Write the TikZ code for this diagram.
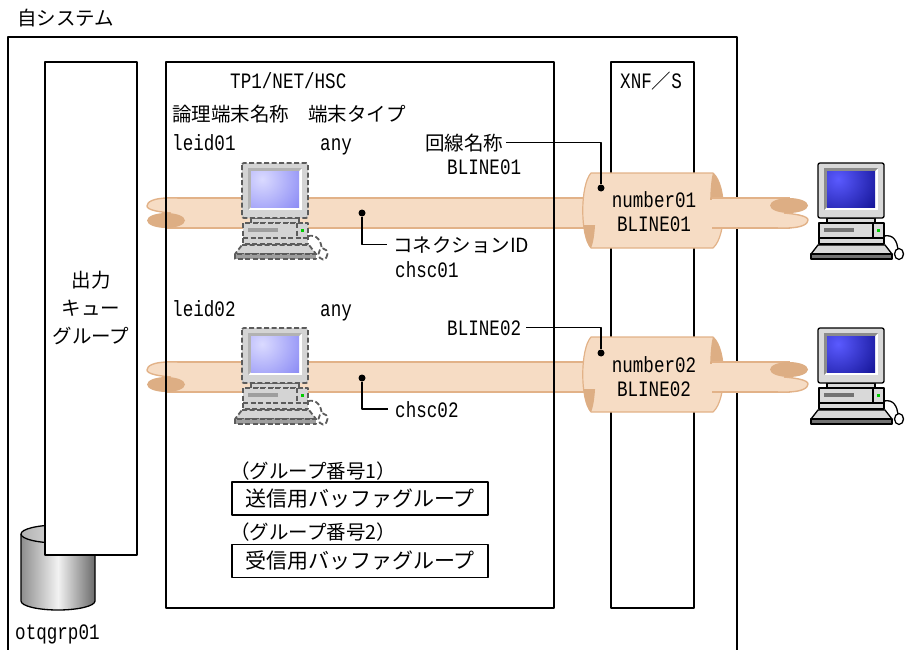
\documentclass[tikz,border=0pt]{standalone}
\usepackage{fontspec}
\setmainfont{Noto Sans CJK JP}
\newfontfamily\latmono[FakeStretch=0.8]{Liberation Mono}

\definecolor{pipefill}{HTML}{F6DCC4}
\definecolor{pipeedge}{HTML}{E2B288}
\definecolor{pipedark}{HTML}{DDAE84}
\definecolor{dashgray}{HTML}{5C5C5C}
\definecolor{cylside}{HTML}{8E8E8E}
\definecolor{cylhi}{HTML}{F2F2F2}
\colorlet{termcase}{black!15}
\colorlet{termbevel}{black!45}
\colorlet{termdark}{black!55}
\colorlet{scrhi}{blue!60}
\colorlet{scrlo}{blue!50!black}

\tikzset{
  box/.style={draw=black, line width=1.3pt},
  pipeline/.style={draw=pipeedge, line width=1.4pt},
  conn/.style={draw=black, line width=1.3pt},
  dot/.style={circle, fill=black, inner sep=0pt, minimum size=7pt},
  jp/.style={inner sep=0pt, font=\fontsize{19.5}{24}\selectfont},
  lt/.style={inner sep=0pt, font=\latmono\fontsize{22}{24}\selectfont},
  jw/.style={jp, anchor=base west},
  lw/.style={lt, anchor=base west},
  bufbox/.style={draw=black, line width=1.3pt, minimum width=256pt,
    minimum height=33pt, inner sep=0pt, font=\fontsize{21}{24}\selectfont},
  termline/.style={draw=black, line width=1.3pt},
}

% terminal icon, origin at the top-left corner of the monitor
\newcommand\termbody{%
  \draw[termline] (66,73) .. controls (76,71) and (79,79) .. (80,86);
  \draw[termline, fill=white] (81,91) ellipse (4.5 and 5.5);
  \draw[termline, fill=termcase] (0,82) -- (67,82) -- (74,91) -- (-7,91) -- cycle;
  \draw[termline, fill=termdark] (-7,91) rectangle (74,96);
  \draw[termline, fill=termcase] (9,55) rectangle (57,60);
  \draw[termline, fill=termcase] (1,60) rectangle (66,81);
  \draw[termline] (55,60) -- (55,75) (1,75) -- (66,75);
  \fill[termdark] (6,65) rectangle (36,69);
  \fill[green!80!black] (59,66) rectangle (62,69);
  \draw[termline, fill=termcase, rounded corners=2pt] (0,0) rectangle (66,55);
  \fill[white] (6,5) rectangle (60,47);
  \fill[termbevel] (6,5) -- (60,5) -- (57,8) -- (9,8) -- (9,44) -- (6,47) -- cycle;
  \begin{scope}
    \clip (9,8) rectangle (57,44);
    \shade[inner color=scrhi, outer color=scrlo] (20,16) circle (60);
  \end{scope}
}
\newcommand\solidterm[2]{%
  \begin{scope}[shift={(#1,#2)}]
    \colorlet{termcase}{black!15}\colorlet{termbevel}{black!45}%
    \colorlet{termdark}{black!55}%
    \definecolor{scrhi}{HTML}{5A5AFF}\definecolor{scrlo}{HTML}{000078}%
    \termbody
  \end{scope}}
\newcommand\dashterm[2]{%
  \begin{scope}[shift={(#1,#2)},
      termline/.style={draw=dashgray, line width=1.8pt, dash pattern=on 5pt off 2.5pt}]
    \colorlet{termcase}{black!17}\colorlet{termbevel}{black!30}%
    \colorlet{termdark}{black!38}%
    \definecolor{scrhi}{HTML}{DADAFF}\definecolor{scrlo}{HTML}{7474F2}%
    \termbody
  \end{scope}}

% loose end of a cable: tip at (0,0), cable running towards +x
\newcommand\pipeend{%
  \fill[pipefill] (22,-15) .. controls (6,-15) and (0,-11) .. (0,-7)
    .. controls (0,-3) and (12,-1) .. (24,0) -- (30,0) -- (30,-15) -- cycle;
  \draw[pipeline] (30,-15) -- (22,-15) .. controls (6,-15) and (0,-11) .. (0,-7)
    .. controls (0,-3) and (12,-1) .. (24,0);
  \fill[pipedark] (19,7.5) ellipse (19 and 7.5);
}
% cable body between two x positions at height #3
\newcommand\pipebody[3]{%
  \fill[pipefill] (#1,#3-15) rectangle (#2,#3+15);
  \draw[pipeline] (#1,#3-15) -- (#2,#3-15);
  \draw[pipeline] (#1,#3+15) -- (#2,#3+15);
}
% line sleeve of XNF/S around the cable
\newcommand\sleeve[1]{%
  \begin{scope}[shift={(0,#1)}]
    \draw[pipeline, line width=1.2pt, fill=pipefill] (591,-40) -- (713,-40)
      .. controls (727,-28) and (727,23) .. (713,35) -- (591,35)
      .. controls (580,23) and (580,-28) .. (591,-40) -- cycle;
    \begin{scope}
      \clip (700,-45) rectangle (730,-14);
      \fill[pipedark] (713,-40) .. controls (727,-28) and (727,23) .. (713,35)
        .. controls (709,23) and (709,-28) .. (713,-40);
    \end{scope}
    \begin{scope}
      \clip (570,12) rectangle (600,40);
      \fill[pipedark] (591,35) .. controls (580,23) and (580,-28) .. (591,-40)
        .. controls (597,-28) and (597,23) .. (591,35);
    \end{scope}
  \end{scope}}

\begin{document}
\begin{tikzpicture}[x=1pt, y=-1pt, line join=round]
\useasboundingbox (0,0) rectangle (907,650);

% own system frame
\draw[box] (8,665) -- (8,37) -- (737,37) -- (737,665);

% output queue file and output queue group
\shade[left color=cylside, right color=cylside!75!black, middle color=cylhi]
  (21,534) -- (21,601) arc (180:0:37 and 9) -- (95,534) -- cycle;
\draw[line width=1.3pt] (21,534) -- (21,601) arc (180:0:37 and 9) -- (95,534);
\shade[left color=black!30, right color=white] (58,534) ellipse (37 and 9);
\draw[line width=1.3pt] (58,534) ellipse (37 and 9);
\draw[box, fill=white] (45,62) rectangle (137,555);

% XNF/S
\draw[box] (611,62) rectangle (694,608);

% cables on the own-system side
\pipebody{166}{600}{213}
\begin{scope}[shift={(147,213)}]\pipeend\end{scope}
\pipebody{166}{600}{377}
\begin{scope}[shift={(147,377)}]\pipeend\end{scope}

% TP1/NET/HSC
\draw[box] (166,62) rectangle (554,608);

% line sleeves
\sleeve{213}
\sleeve{377}

% cables towards the remote terminals
\pipebody{712}{790}{213}
\begin{scope}[shift={(808,213)}, rotate=180]\pipeend\end{scope}
\pipebody{712}{790}{377}
\begin{scope}[shift={(808,377)}, rotate=180]\pipeend\end{scope}

% terminals
\dashterm{242}{163}
\dashterm{242}{328}
\solidterm{818}{163}
\solidterm{818}{328}

% labels
\node[jw] (own) at (17,26) {自システム};
\node[jp, anchor=base] (q1) at (91,287) {出力};
\node[jp, anchor=base] (q2) at (91,315) {キュー};
\node[jp, anchor=base] (q3) at (91,343) {グループ};
\node[lw] (otq) at (15,639) {otqgrp01};

\node[lw] (hsc) at (230,89) {TP1/NET/HSC};
\node[lw] (xnf) at (620,89) {XNF{\fontsize{19.5}{24}\selectfont\rmfamily ／}S};

\node[jw] (h1) at (172,122) {論理端末名称};
\node[jw] (h2) at (308,122) {端末タイプ};
\node[lw] (le1) at (172,150) {leid01};
\node[lw] (an1) at (320,150) {any};
\node[jw] (k1) at (425,150) {回線名称};
\node[lw] (bl1) at (447,174) {BLINE01};
\node[jw] (cn1) at (393,252) {コネクションID};
\node[lw] (ch1) at (395,277) {chsc01};

\node[lw] (le2) at (172,316) {leid02};
\node[lw] (an2) at (320,316) {any};
\node[lw] (bl2) at (447,335) {BLINE02};
\node[lw] (ch2) at (395,417) {chsc02};

\node[lt, anchor=base] (nm1) at (654,207) {number01};
\node[lt, anchor=base] (nb1) at (654,231) {BLINE01};
\node[lt, anchor=base] (nm2) at (654,372) {number02};
\node[lt, anchor=base] (nb2) at (654,396) {BLINE02};

% connection points
\node[dot] (cd1) at (601,188) {};
\node[dot] (cd2) at (601,353) {};
\node[dot] (pd1) at (362,213) {};
\node[dot] (pd2) at (362,378) {};

\draw[conn] ([xshift=3pt]k1.east) -| (cd1);
\draw[conn] ([xshift=5pt]bl2.east) -| (cd2);
\draw[conn] (pd1) |- ([xshift=-6pt]cn1.west);
\draw[conn] (pd2) |- ([xshift=-7pt]ch2.west);

% buffer groups
\node[jw] (g1) at (230,478) {（グループ番号1）};
\node[bufbox] (b1) at (360,498.5) {送信用バッファグループ};
\node[jw] (g2) at (230,539) {（グループ番号2）};
\node[bufbox] (b2) at (360,561) {受信用バッファグループ};
\end{tikzpicture}
\end{document}
